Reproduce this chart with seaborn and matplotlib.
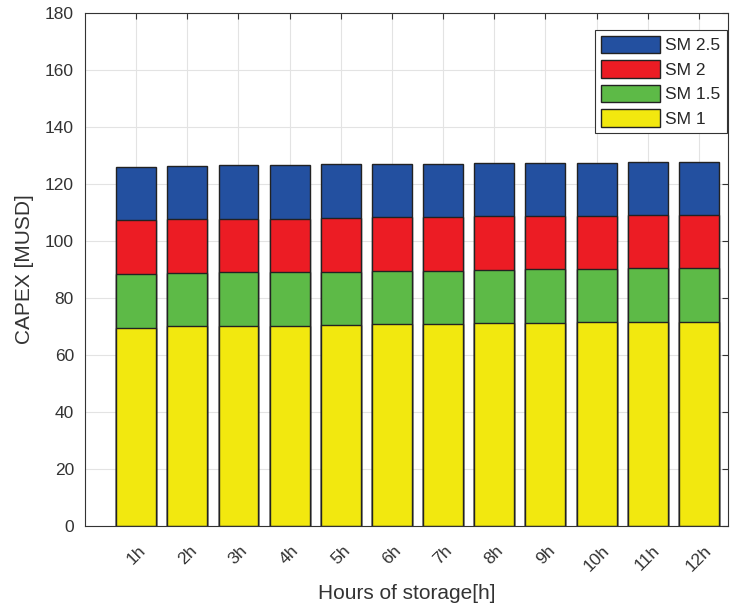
import numpy as np
import pandas as pd
import seaborn as sns
import matplotlib.pyplot as plt

hours = ['1h', '2h', '3h', '4h', '5h', '6h', '7h', '8h', '9h', '10h', '11h', '12h']
sm1 = [69.5, 70.0, 70.2, 70.2, 70.6, 70.8, 71.0, 71.2, 71.2, 71.5, 71.6, 71.6]
sm15 = [19.0, 18.7, 18.8, 18.8, 18.6, 18.7, 18.6, 18.7, 18.8, 18.5, 18.8, 18.8]
sm2 = [18.8, 19.0, 18.8, 18.8, 19.0, 18.8, 18.8, 18.7, 18.7, 18.7, 18.8, 18.8]
sm25 = [18.7, 18.7, 18.7, 18.7, 18.8, 18.7, 18.7, 18.7, 18.6, 18.6, 18.6, 18.6]

series = ['SM 1', 'SM 1.5', 'SM 2', 'SM 2.5']
colors = ['#F2E80F', '#5DBA47', '#EC1C24', '#2350A0']

df = pd.DataFrame({'hours': hours, 'SM 1': sm1, 'SM 1.5': sm15, 'SM 2': sm2, 'SM 2.5': sm25})
cum = df[series].cumsum(axis=1)
cum['hours'] = df['hours']

sns.set_style('whitegrid')
plt.rcParams['font.family'] = ['Liberation Sans', 'DejaVu Sans']

fig = plt.figure(figsize=(7.42, 6.09), dpi=100)
ax = fig.add_axes([0.1146, 0.1363, 0.8666, 0.8424])

# stacked by drawing the cumulative totals from the top down
for name, col in reversed(list(zip(series, colors))):
    sns.barplot(x='hours', y=name, data=cum, color=col, width=0.78,
                edgecolor='#222222', linewidth=1.0, saturation=1, ax=ax, label=name)

ax.set_ylim(0, 180)
ax.set_yticks(np.arange(0, 181, 20))
ax.set_xlim(-1, 11.57)
ax.grid(True, color='#e3e3e3', linewidth=0.8)
ax.set_axisbelow(True)
for s in ax.spines.values():
    s.set_color('#333333')
    s.set_linewidth(0.8)
ax.tick_params(axis='both', labelsize=12.5, colors='#333333', direction='in', length=4,
               top=True, right=True)
ax.tick_params(axis='y', pad=8)
ax.tick_params(axis='x', labelrotation=45, pad=12)
for lab in ax.get_xticklabels():
    lab.set_ha('center')
ax.set_xlabel('Hours of storage[h]', fontsize=15, color='#333333', labelpad=7)
ax.set_ylabel('CAPEX [MUSD]', fontsize=15, color='#333333', labelpad=8)

leg = ax.legend(loc='upper right', bbox_to_anchor=(0.998, 0.967), fontsize=12.5,
                frameon=True, fancybox=False, edgecolor='#333333', framealpha=1,
                handlelength=3.4, handleheight=1.15, handletextpad=0.3,
                labelspacing=0.4, borderpad=0.35, borderaxespad=0)
leg.get_frame().set_linewidth(0.8)

fig.savefig('out.png', dpi=100)
